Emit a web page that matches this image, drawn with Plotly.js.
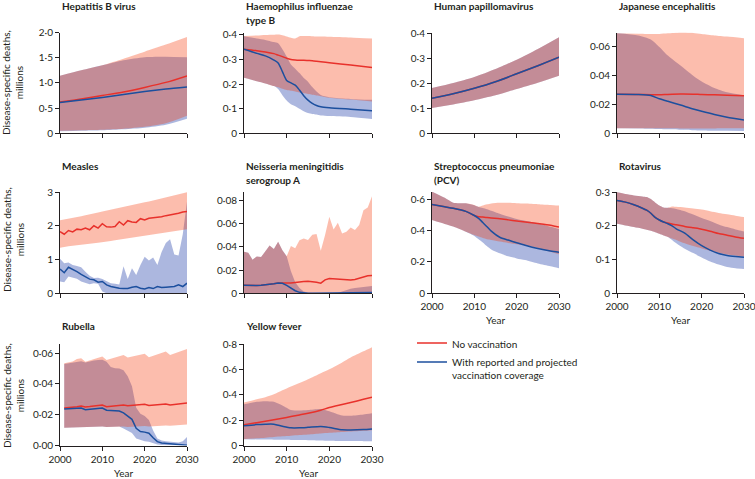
<!DOCTYPE html>
<html><head><meta charset="utf-8">
<script src="https://cdn.plot.ly/plotly-3.0.1.min.js"></script>
<style>html,body{margin:0;padding:0;background:#fff}#chart{width:755px;height:479px}</style>
</head><body><div id="chart"></div>
<script>
// ---------- DATA, deaths in millions ----------
const xTickVals = [2000, 2010, 2020, 2030];
const xTickText = ['2000', '2010', '2020', '2030'];

// Hepatitis B virus
const hepbYears   = [2000,2005,2010,2015,2020,2025,2030];
const hepbNoVac   = [0.62,0.68,0.75,0.82,0.91,1.01,1.14];
const hepbNoVacLo = [0.05,0.06,0.07,0.09,0.13,0.20,0.35];
const hepbNoVacHi = [1.14,1.25,1.35,1.48,1.62,1.76,1.91];
const hepbVac     = [0.61,0.66,0.71,0.77,0.83,0.88,0.92];
const hepbVacLo   = [0.04,0.05,0.06,0.08,0.11,0.17,0.29];
const hepbVacHi   = [1.14,1.25,1.35,1.45,1.51,1.52,1.51];
const hepbTicks   = [0,0.5,1,1.5,2];
const hepbTickText= ['0','0·5','1·0','1·5','2·0'];

// Haemophilus influenzae type B
const hibYears   = [2000,2003,2005,2007,2008,2009,2010,2011,2012,2013,2014,2015,2016,2017,2018,2020,2025,2030];
const hibNoVac   = [0.342,0.336,0.331,0.324,0.318,0.312,0.305,0.300,0.298,0.297,0.297,0.296,0.295,0.293,0.291,0.287,0.278,0.268];
const hibNoVacHi = [0.396,0.398,0.400,0.401,0.402,0.399,0.394,0.389,0.386,0.395,0.396,0.396,0.395,0.394,0.394,0.393,0.390,0.386];
const hibNoVacLo = [0.226,0.212,0.203,0.192,0.187,0.181,0.176,0.173,0.170,0.166,0.163,0.160,0.157,0.154,0.151,0.145,0.137,0.129];
const hibVac     = [0.342,0.325,0.315,0.298,0.286,0.251,0.215,0.205,0.196,0.176,0.153,0.135,0.122,0.113,0.108,0.104,0.098,0.092];
const hibVacHi   = [0.395,0.386,0.380,0.371,0.366,0.342,0.312,0.280,0.263,0.245,0.225,0.210,0.188,0.170,0.156,0.147,0.140,0.136];
const hibVacLo   = [0.226,0.212,0.203,0.192,0.180,0.155,0.133,0.118,0.110,0.100,0.090,0.083,0.079,0.076,0.072,0.070,0.066,0.058];
const tenthTicks    = [0,0.1,0.2,0.3,0.4];
const tenthTickText = ['0','0·1','0·2','0·3','0·4'];

// Human papillomavirus
const hpvYears   = [2000,2005,2010,2015,2020,2025,2030];
const hpvNoVac   = [0.140,0.158,0.180,0.206,0.238,0.270,0.304];
const hpvNoVacHi = [0.181,0.201,0.225,0.257,0.294,0.337,0.384];
const hpvNoVacLo = [0.101,0.115,0.132,0.152,0.177,0.202,0.230];
const hpvVac     = [0.140,0.158,0.180,0.206,0.238,0.270,0.304];
const hpvVacHi   = [0.181,0.201,0.225,0.257,0.294,0.337,0.384];
const hpvVacLo   = [0.101,0.115,0.132,0.152,0.177,0.202,0.230];

// Japanese encephalitis
const jeYears   = [2000,2005,2008,2010,2012,2015,2018,2020,2023,2026,2030];
const jeNoVac   = [0.0271,0.0270,0.0268,0.0267,0.0270,0.0273,0.0272,0.0269,0.0267,0.0264,0.0260];
const jeNoVacHi = [0.0695,0.0692,0.0690,0.0690,0.0694,0.0700,0.0697,0.0690,0.0680,0.0672,0.0660];
const jeNoVacLo = [0.0035,0.0035,0.0035,0.0035,0.0035,0.0034,0.0034,0.0034,0.0034,0.0035,0.0035];
const jeVac     = [0.0271,0.0269,0.0262,0.0240,0.0222,0.0196,0.0169,0.0153,0.0131,0.0112,0.0093];
const jeVacHi   = [0.0695,0.0680,0.0652,0.0600,0.0540,0.0470,0.0400,0.0360,0.0315,0.0285,0.0265];
const jeVacLo   = [0.0035,0.0034,0.0032,0.0030,0.0028,0.0025,0.0022,0.0020,0.0018,0.0017,0.0016];
const jeTicks    = [0,0.02,0.04,0.06];
const jeTickText = ['0','0·02','0·04','0·06'];

// Measles
const measYears   = [2000,2001,2002,2003,2004,2005,2006,2007,2008,2009,2010,2011,2012,2013,2014,2015,2016,2017,2018,2019,2020,2021,2022,2023,2024,2025,2026,2027,2028,2029,2030];
const measNoVac   = [1.83,1.75,1.86,1.82,1.90,1.88,1.93,1.88,2.00,1.93,2.06,1.97,1.96,1.98,2.12,2.02,2.15,2.11,2.10,2.21,2.17,2.22,2.24,2.25,2.27,2.30,2.32,2.34,2.37,2.41,2.42];
const measNoVacHi = [2.16,2.18,2.21,2.23,2.25,2.28,2.31,2.33,2.36,2.39,2.42,2.45,2.47,2.50,2.53,2.56,2.58,2.61,2.64,2.67,2.70,2.72,2.75,2.78,2.81,2.84,2.86,2.89,2.92,2.96,2.99];
const measNoVacLo = [1.35,1.38,1.39,1.41,1.42,1.44,1.45,1.47,1.48,1.50,1.51,1.53,1.55,1.57,1.59,1.60,1.62,1.64,1.66,1.68,1.70,1.72,1.74,1.76,1.78,1.80,1.82,1.84,1.86,1.88,1.90];
const measVac     = [0.72,0.61,0.77,0.71,0.64,0.56,0.50,0.42,0.40,0.33,0.35,0.25,0.20,0.17,0.15,0.14,0.14,0.18,0.20,0.15,0.13,0.17,0.14,0.20,0.17,0.18,0.19,0.20,0.25,0.20,0.30];
const measVacHi   = [1.02,0.89,0.91,0.84,0.81,0.77,0.64,0.52,0.45,0.46,0.42,0.35,0.30,0.28,0.26,0.80,0.42,0.74,0.54,0.84,1.08,0.97,1.06,0.84,1.22,1.49,1.60,1.15,1.12,1.75,2.72];
const measVacLo   = [0.35,0.33,0.50,0.47,0.43,0.35,0.30,0.27,0.30,0.28,0.05,0,0,0,0,0,0,0,0,0,0,0,0,0,0,0,0,0,0,0,0];
const measTicks    = [0,1,2,3];
const measTickText = ['0','1','2','3'];

// Neisseria meningitidis serogroup A
const neisYears   = [2000,2001,2002,2003,2004,2005,2006,2007,2008,2009,2010,2011,2012,2013,2014,2015,2016,2017,2018,2019,2020,2021,2022,2023,2024,2025,2026,2027,2028,2029,2030];
const neisNoVac   = [0.0069,0.0066,0.0063,0.0066,0.0069,0.0072,0.0077,0.0082,0.0088,0.0086,0.0086,0.0088,0.0093,0.0099,0.0101,0.0103,0.0102,0.0095,0.0087,0.0115,0.0127,0.0125,0.0117,0.0116,0.0114,0.0114,0.0118,0.0128,0.0140,0.0151,0.0152];
const neisNoVacHi = [0.0357,0.0349,0.0289,0.0317,0.0311,0.0360,0.0411,0.0380,0.0443,0.0370,0.0318,0.0406,0.0386,0.0455,0.0470,0.0457,0.0503,0.0510,0.0366,0.0500,0.0657,0.0549,0.0606,0.0514,0.0529,0.0566,0.0543,0.0586,0.0714,0.0737,0.0834];
const neisNoVacLo = [0,0,0,0,0,0,0,0,0,0,0,0,0,0,0,0,0,0,0,0,0,0,0,0,0,0,0,0,0,0,0];
const neisVac     = [0.0069,0.0066,0.0063,0.0066,0.0069,0.0072,0.0077,0.0082,0.0088,0.0086,0.0068,0.0045,0.0022,0.0008,0.0002,0.0001,0.0001,0.0001,0.0001,0.0001,0.0001,0.0001,0.0001,0.0001,0.0001,0.0001,0.0001,0.0002,0.0003,0.0004,0.0006];
const neisVacHi   = [0.0357,0.0349,0.0289,0.0317,0.0311,0.0360,0.0411,0.0380,0.0443,0.0370,0.0318,0.0190,0.0095,0.0045,0.0015,0.0006,0.0003,0.0003,0.0003,0.0003,0.0003,0.0003,0.0003,0.0015,0.0030,0.0040,0.0045,0.0050,0.0055,0.0060,0.0062];
const neisVacLo   = [0,0,0,0,0,0,0,0,0,0,0,0,0,0,0,0,0,0,0,0,0,0,0,0,0,0,0,0,0,0,0];
const neisTicks    = [0,0.02,0.04,0.06,0.08];
const neisTickText = ['0','0·02','0·04','0·06','0·08'];

// Streptococcus pneumoniae (PCV)
const strepYears   = [2000,2003,2005,2008,2010,2011,2012,2013,2014,2016,2018,2020,2022,2025,2028,2030];
const strepNoVac   = [0.568,0.553,0.543,0.523,0.497,0.489,0.487,0.484,0.481,0.476,0.469,0.462,0.456,0.446,0.435,0.423];
const strepNoVacHi = [0.649,0.610,0.579,0.575,0.564,0.553,0.560,0.568,0.574,0.579,0.578,0.575,0.573,0.569,0.564,0.560];
const strepNoVacLo = [0.468,0.443,0.426,0.393,0.372,0.362,0.353,0.346,0.341,0.331,0.322,0.313,0.305,0.290,0.265,0.249];
const strepVac     = [0.568,0.553,0.543,0.523,0.497,0.479,0.452,0.425,0.397,0.358,0.340,0.323,0.307,0.286,0.270,0.262];
const strepVacHi   = [0.649,0.610,0.579,0.575,0.562,0.551,0.545,0.537,0.527,0.508,0.490,0.474,0.463,0.447,0.425,0.411];
const strepVacLo   = [0.468,0.443,0.426,0.393,0.366,0.345,0.325,0.300,0.280,0.255,0.236,0.223,0.212,0.190,0.172,0.160];
const strepTicks    = [0,0.2,0.4,0.6];
const strepTickText = ['0','0·2','0·4','0·6'];

// Rotavirus
const rotaYears   = [2000,2002,2004,2006,2007,2008,2009,2010,2011,2012,2013,2014,2016,2018,2020,2022,2024,2026,2028,2030];
const rotaNoVac   = [0.275,0.270,0.262,0.252,0.246,0.237,0.225,0.217,0.211,0.208,0.205,0.203,0.198,0.194,0.190,0.184,0.177,0.172,0.167,0.163];
const rotaNoVacHi = [0.299,0.294,0.290,0.287,0.285,0.279,0.269,0.260,0.254,0.253,0.257,0.256,0.254,0.251,0.248,0.243,0.238,0.234,0.230,0.226];
const rotaNoVacLo = [0.206,0.201,0.196,0.191,0.188,0.185,0.181,0.176,0.171,0.167,0.162,0.158,0.148,0.140,0.133,0.126,0.120,0.115,0.112,0.109];
const rotaVac     = [0.275,0.270,0.262,0.252,0.246,0.237,0.225,0.217,0.211,0.206,0.200,0.191,0.178,0.158,0.141,0.128,0.118,0.112,0.109,0.107];
const rotaVacHi   = [0.299,0.294,0.290,0.287,0.285,0.279,0.269,0.260,0.254,0.253,0.252,0.250,0.243,0.233,0.223,0.214,0.204,0.196,0.189,0.183];
const rotaVacLo   = [0.206,0.201,0.196,0.191,0.188,0.185,0.181,0.176,0.171,0.167,0.158,0.148,0.132,0.119,0.106,0.094,0.085,0.078,0.074,0.072];
const rotaTicks    = [0,0.1,0.2,0.3];
const rotaTickText = ['0','0·1','0·2','0·3'];

// Rubella
const rubYears   = [2001,2002,2003,2004,2005,2006,2007,2008,2009,2010,2011,2012,2013,2014,2015,2016,2017,2018,2019,2020,2021,2022,2023,2024,2025,2026,2027,2028,2029,2030];
const rubNoVac   = [0.0244,0.0246,0.0249,0.0252,0.0257,0.0251,0.0253,0.0256,0.0259,0.0263,0.0252,0.0255,0.0258,0.0260,0.0263,0.0258,0.0260,0.0262,0.0265,0.0268,0.0260,0.0262,0.0265,0.0267,0.0270,0.0264,0.0266,0.0269,0.0272,0.0276];
const rubNoVacHi = [0.0535,0.0541,0.0547,0.0563,0.0567,0.0545,0.0553,0.0565,0.0572,0.0578,0.0556,0.0565,0.0572,0.0580,0.0589,0.0572,0.0578,0.0585,0.0593,0.0597,0.0574,0.0583,0.0592,0.0601,0.0611,0.0588,0.0596,0.0606,0.0617,0.0628];
const rubNoVacLo = [0.0116,0.0117,0.0118,0.0119,0.0120,0.0118,0.0120,0.0122,0.0123,0.0124,0.0120,0.0121,0.0122,0.0123,0.0124,0.0120,0.0122,0.0124,0.0126,0.0127,0.0124,0.0126,0.0127,0.0129,0.0130,0.0128,0.0130,0.0132,0.0134,0.0136];
const rubVac     = [0.0238,0.0239,0.0240,0.0241,0.0244,0.0233,0.0235,0.0238,0.0240,0.0244,0.0229,0.0226,0.0225,0.0224,0.0212,0.0193,0.0170,0.0112,0.0091,0.0087,0.0080,0.0050,0.0025,0.0016,0.0013,0.0011,0.0009,0.0006,0.0004,0.0002];
const rubVacHi   = [0.0530,0.0535,0.0540,0.0545,0.0548,0.0540,0.0548,0.0553,0.0556,0.0558,0.0545,0.0510,0.0503,0.0500,0.0490,0.0450,0.0385,0.0245,0.0207,0.0192,0.0165,0.0098,0.0045,0.0033,0.0027,0.0024,0.0022,0.0020,0.0028,0.0055];
const rubVacLo   = [0.0116,0.0117,0.0118,0.0119,0.0120,0.0118,0.0120,0.0122,0.0123,0.0124,0.0120,0.0121,0.0122,0.0123,0.0110,0.0098,0.0081,0.0045,0.0034,0.0028,0.0025,0.0015,0.0007,0.0003,0.0002,0.0001,0.0001,0.0001,0,0];
const rubTicks    = [0,0.02,0.04,0.06];
const rubTickText = ['0·00','0·02','0·04','0·06'];

// Yellow fever
const yfYears   = [2000,2003,2005,2007,2009,2011,2013,2015,2018,2020,2023,2025,2028,2030];
const yfNoVac   = [0.163,0.180,0.191,0.203,0.215,0.228,0.241,0.254,0.278,0.299,0.323,0.339,0.364,0.381];
const yfNoVacHi = [0.339,0.365,0.381,0.403,0.435,0.465,0.492,0.522,0.570,0.601,0.655,0.693,0.742,0.774];
const yfNoVacLo = [0.050,0.057,0.062,0.067,0.072,0.077,0.082,0.087,0.095,0.100,0.107,0.111,0.117,0.121];
const yfVac     = [0.155,0.165,0.168,0.168,0.152,0.139,0.139,0.143,0.150,0.142,0.124,0.123,0.126,0.131];
const yfVacHi   = [0.325,0.344,0.349,0.344,0.315,0.280,0.276,0.280,0.288,0.270,0.236,0.235,0.245,0.255];
const yfVacLo   = [0.050,0.048,0.047,0.046,0.045,0.044,0.043,0.042,0.040,0.038,0.036,0.035,0.034,0.033];
const yfTicks    = [0,0.2,0.4,0.6,0.8];
const yfTickText = ['0','0·2','0·4','0·6','0·8'];

const seriesNames = ['No vaccination', 'With reported and projected<br>vaccination coverage'];

// ---------- LAYOUT / STYLE ----------
const W = 755, H = 479;
const FONT = 'Lato, "Open Sans", sans-serif';
const INK = '#231f20';
const RED = '#e8312b', BLUE = '#1c4f9e';
const RED_FILL = 'rgba(245,50,0,0.32)';
const BLUE_FILL = 'rgba(70,95,185,0.45)';
const COLS = [[60,187],[244,372],[432,559],[617,744]];
const ROWS = [[32.5,133.3],[192,293.3],[344,445.5]];
const TITLE_Y = [5.5, 166, 325.5];

const panels = [
  {title:'Hepatitis B virus', r:0,c:0, x:hepbYears, nv:hepbNoVac, nvLo:hepbNoVacLo, nvHi:hepbNoVacHi, v:hepbVac, vLo:hepbVacLo, vHi:hepbVacHi, yr:[0,2.0], tv:hepbTicks, tt:hepbTickText, shape:'spline', xlab:false},
  {title:'Haemophilus influenzae<br>type B', r:0,c:1, x:hibYears, nv:hibNoVac, nvLo:hibNoVacLo, nvHi:hibNoVacHi, v:hibVac, vLo:hibVacLo, vHi:hibVacHi, yr:[0,0.41], tv:tenthTicks, tt:tenthTickText, shape:'spline', xlab:false},
  {title:'Human papillomavirus', r:0,c:2, x:hpvYears, nv:hpvNoVac, nvLo:hpvNoVacLo, nvHi:hpvNoVacHi, v:hpvVac, vLo:hpvVacLo, vHi:hpvVacHi, yr:[0,0.403], tv:tenthTicks, tt:tenthTickText, shape:'spline', xlab:false},
  {title:'Japanese encephalitis', r:0,c:3, x:jeYears, nv:jeNoVac, nvLo:jeNoVacLo, nvHi:jeNoVacHi, v:jeVac, vLo:jeVacLo, vHi:jeVacHi, yr:[0,0.07], tv:jeTicks, tt:jeTickText, shape:'spline', xlab:false},
  {title:'Measles', r:1,c:0, x:measYears, nv:measNoVac, nvLo:measNoVacLo, nvHi:measNoVacHi, v:measVac, vLo:measVacLo, vHi:measVacHi, yr:[0,3], tv:measTicks, tt:measTickText, shape:'linear', xlab:false},
  {title:'Neisseria meningitidis<br>serogroup A', r:1,c:1, x:neisYears, nv:neisNoVac, nvLo:neisNoVacLo, nvHi:neisNoVacHi, v:neisVac, vLo:neisVacLo, vHi:neisVacHi, yr:[0,0.087], tv:neisTicks, tt:neisTickText, shape:'linear', xlab:false},
  {title:'Streptococcus pneumoniae<br>(PCV)', r:1,c:2, x:strepYears, nv:strepNoVac, nvLo:strepNoVacLo, nvHi:strepNoVacHi, v:strepVac, vLo:strepVacLo, vHi:strepVacHi, yr:[0,0.647], tv:strepTicks, tt:strepTickText, shape:'spline', xlab:true},
  {title:'Rotavirus', r:1,c:3, x:rotaYears, nv:rotaNoVac, nvLo:rotaNoVacLo, nvHi:rotaNoVacHi, v:rotaVac, vLo:rotaVacLo, vHi:rotaVacHi, yr:[0,0.3], tv:rotaTicks, tt:rotaTickText, shape:'spline', xlab:true},
  {title:'Rubella', r:2,c:0, x:rubYears, nv:rubNoVac, nvLo:rubNoVacLo, nvHi:rubNoVacHi, v:rubVac, vLo:rubVacLo, vHi:rubVacHi, yr:[0,0.066], tv:rubTicks, tt:rubTickText, shape:'linear', xlab:true},
  {title:'Yellow fever', r:2,c:1, x:yfYears, nv:yfNoVac, nvLo:yfNoVacLo, nvHi:yfNoVacHi, v:yfVac, vLo:yfVacLo, vHi:yfVacHi, yr:[0,0.8], tv:yfTicks, tt:yfTickText, shape:'spline', xlab:true}
];

const data = [];
const annotations = [];
const layout = {
  width: W, height: H,
  margin: {l:0, r:0, t:0, b:0},
  paper_bgcolor: '#ffffff', plot_bgcolor: 'rgba(0,0,0,0)',
  font: {family: FONT, size: 10, color: INK},
  showlegend: true,
  legend: {x: 412/W, xanchor: 'left', y: 1 - 330/H, yanchor: 'top', bgcolor: 'rgba(0,0,0,0)',
           font: {family: FONT, size: 10, color: INK}, valign: 'top', tracegroupgap: 0,
           traceorder: 'normal', itemclick: false, itemdoubleclick: false},
  hovermode: false,
  annotations: annotations
};

panels.forEach((p, i) => {
  const n = i + 1;
  const xa = 'x' + (n === 1 ? '' : n), ya = 'y' + (n === 1 ? '' : n);
  const xk = 'xaxis' + (n === 1 ? '' : n), yk = 'yaxis' + (n === 1 ? '' : n);
  const base = {type: 'scatter', mode: 'lines', x: p.x, xaxis: xa, yaxis: ya, hoverinfo: 'skip'};
  const edge = {width: 0, shape: p.shape, smoothing: 0.7};
  data.push(Object.assign({}, base, {y: p.vLo, line: edge, showlegend: false}));
  data.push(Object.assign({}, base, {y: p.vHi, line: edge, fill: 'tonexty', fillcolor: BLUE_FILL, showlegend: false}));
  data.push(Object.assign({}, base, {y: p.nvLo, line: edge, showlegend: false}));
  data.push(Object.assign({}, base, {y: p.nvHi, line: edge, fill: 'tonexty', fillcolor: RED_FILL, showlegend: false}));
  data.push(Object.assign({}, base, {y: p.nv, name: seriesNames[0], legendrank: 1, showlegend: i === 0,
    line: {color: RED, width: 1.5, shape: p.shape, smoothing: 0.7}}));
  data.push(Object.assign({}, base, {y: p.v, name: seriesNames[1], legendrank: 2, showlegend: i === 0,
    line: {color: BLUE, width: 1.5, shape: p.shape, smoothing: 0.7}}));

  const common = {showline: true, linecolor: INK, linewidth: 1, ticks: 'outside', ticklen: 4, tickwidth: 1,
    tickcolor: INK, showgrid: false, zeroline: false, fixedrange: true, ticklabeloverflow: 'allow',
    tickfont: {family: FONT, size: 10, color: INK}};
  layout[xk] = Object.assign({}, common, {
    domain: [COLS[p.c][0]/W, COLS[p.c][1]/W], anchor: ya, range: [2000, 2030],
    tickmode: 'array', tickvals: xTickVals, ticktext: xTickText, showticklabels: p.xlab});
  layout[yk] = Object.assign({}, common, {
    domain: [1 - ROWS[p.r][1]/H, 1 - ROWS[p.r][0]/H], anchor: xa, range: p.yr,
    tickmode: 'array', tickvals: p.tv, ticktext: p.tt});

  // panel title, left aligned with the y axis
  p.title.split('<br>').forEach((line, k) => {
    annotations.push({xref: 'paper', yref: 'paper', x: COLS[p.c][0]/W, xanchor: 'left',
      y: 1 - (TITLE_Y[p.r] + k*14.3)/H, yanchor: 'middle', text: line, showarrow: false,
      font: {family: FONT, size: 10, color: INK, weight: 700}});
  });
  if (p.xlab) {
    annotations.push({xref: 'paper', yref: 'paper', x: (COLS[p.c][0] + COLS[p.c][1])/2/W, xanchor: 'center',
      y: 1 - (ROWS[p.r][1] + 27)/H, yanchor: 'middle', text: 'Year', showarrow: false,
      font: {family: FONT, size: 10, color: INK}});
  }
});

// y-axis titles for first column
[83, 240, 396].forEach(yc => {
  annotations.push({xref: 'paper', yref: 'paper', x: 13/W, xanchor: 'center', y: 1 - yc/H, yanchor: 'middle',
    text: 'Disease-specific deaths,<br>millions', textangle: -90, showarrow: false,
    font: {family: FONT, size: 10, color: INK}});
});

Plotly.newPlot('chart', data, layout, {staticPlot: true, displayModeBar: false});
</script></body></html>
